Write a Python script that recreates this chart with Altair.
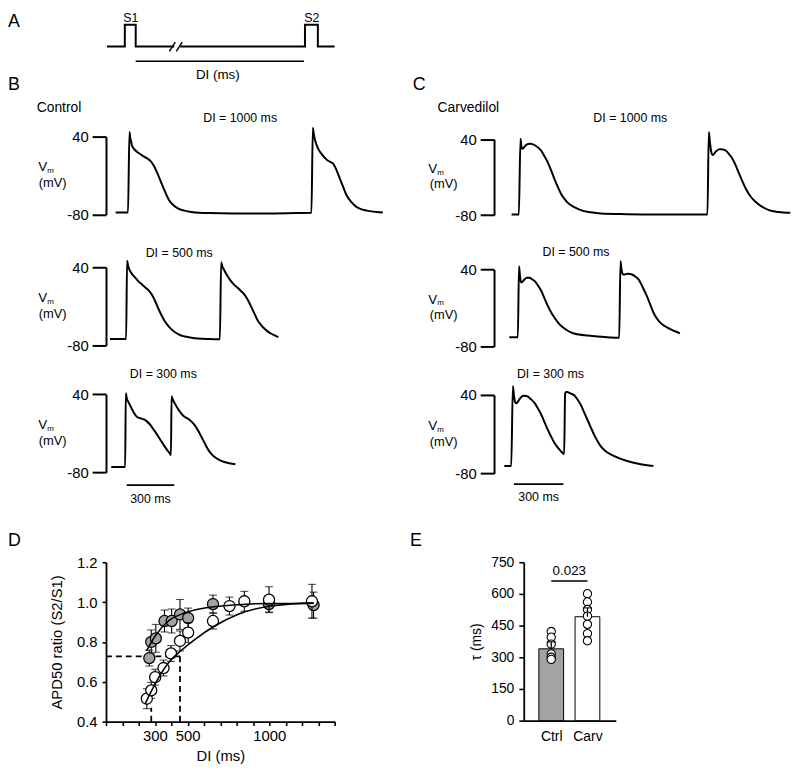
import altair as alt
import pandas as pd

FONT = "Liberation Sans"
W, H = 792, 764

# ---------------- Panel A: S1-S2 protocol (schematic units) ----------------
A_t = [0, 18, 18, 29, 29, 68, 74, 200, 200, 213, 213, 230]
A_lvl = [0, 0, 1, 1, 0, 0, 0, 0, 1, 1, 0, 0]
A_seg = ["a"] * 6 + ["b"] * 6
A_slash_t0 = [63, 70]
A_slash_t1 = [69, 76]
A_slash_y = [-0.22, 0.2]
A_di_span = [29, 199]
A_di_level = -0.68
A_labels = ["S1", "S2", "DI (ms)"]
A_label_t = [24, 207, 112]
A_label_y = [1.32, 1.32, -1.32]
A_label_fs = [12.5, 12.5, 13.5]

# ---------------- Panels B / C: action potential traces (ms, mV) ----------------
T_DOMAIN = [0, 1800]
V_DOMAIN = [-80, 40]

B1_pts = [(61, -77), (139, -77), (148, 47), (153, 38), (160, 31), (164, 26), (185, 19), (206, 14.6),
          (228, 11), (248, 8), (265, 5.5), (279, 3), (300, -4), (331, -20), (352, -33), (373, -45),
          (394, -56), (414, -63), (435, -67.5), (456, -71), (495, -74), (539, -76), (650, -77.8),
          (800, -78.3), (1000, -78.3), (1200, -77.8), (1297, -77.5), (1306, 53.7), (1313, 42),
          (1321, 33.5), (1340, 21), (1362, 13), (1394, 4.5), (1415, 1), (1435, -2.2), (1456, -12),
          (1477, -25), (1498, -38), (1519, -50.4), (1550, -61), (1581, -68.3), (1620, -72.5),
          (1665, -74.8), (1710, -76.3), (1748, -77)]
B2_pts = [(25, -70), (127, -70), (133, 50), (140, 42), (148, 36.5), (166, 29), (186, 23.7), (206, 18),
          (227, 13.7), (248, 9), (269, 4.6), (285, -0.5), (300, -6.6), (321, -18), (342, -29.4),
          (362, -39), (383, -47), (410, -54.5), (436, -59.8), (467, -64), (498, -66.3), (540, -68.2),
          (581, -69.4), (650, -70.2), (719, -70.5), (727, 47.6), (735, 41), (744, 36.5), (766, 27),
          (789, 18.7), (810, 13), (831, 8.6), (852, 3.5), (873, -1.5), (893, -9), (914, -19.2),
          (935, -30), (956, -41), (977, -48), (998, -53.7), (1018, -58), (1039, -61.3), (1065, -64.7),
          (1088, -67.4)]
B3_pts = [(33, -71.5), (121, -71.5), (125, 41.5), (132, 33), (144, 27), (164, 17), (180, 10), (196, 5),
          (212, 3.5), (227, 2.5), (243, 1), (258, -1.6), (280, -7), (300, -14), (320, -21), (342, -29.4),
          (362, -37), (383, -44.6), (400, -50), (410, -53.3), (414, 37), (420, 33), (436, 25.2), (456, 17),
          (477, 10), (498, 5), (519, 2.4), (540, -2), (561, -7.7), (582, -16), (602, -25.3), (623, -35),
          (644, -44.6), (665, -51.5), (686, -56.3), (717, -61), (748, -64), (785, -66.3), (817, -67.4)]
C1_pts = [(106, -79), (150, -79), (160, 41), (165, 30), (170, 25), (178, 26), (190, 30), (205, 32.5),
          (220, 33), (235, 32), (246, 30.5), (266, 27), (286, 21.8), (305, 13), (325, 3.5), (345, -9),
          (365, -22.7), (385, -35), (405, -46.2), (425, -54), (445, -60.3), (485, -67.5), (525, -72.2),
          (585, -75.5), (645, -77.5), (800, -78.5), (1000, -79), (1200, -79), (1291, -79), (1299, 51.6),
          (1306, 35), (1314, 20), (1323, 15), (1340, 20), (1360, 24), (1373, 24.3), (1390, 23.5),
          (1403, 21.8), (1423, 16), (1443, 8.7), (1463, -2), (1483, -14.8), (1503, -27), (1523, -38.3),
          (1553, -51), (1583, -59.2), (1620, -66.5), (1663, -72.2), (1720, -75), (1792, -76.4)]
C2_pts = [(92, -65.6), (144, -65.6), (151, 45), (157, 30), (163, 20), (172, 21), (185, 25), (200, 27),
          (216, 27), (231, 24.5), (246, 21.9), (266, 15), (286, 6.4), (305, -5), (325, -16.7),
          (345, -26.5), (365, -34.8), (385, -42), (405, -47.7), (435, -53.5), (465, -58), (515, -61.5),
          (565, -63), (625, -64.5), (684, -65.6), (757, -66.6), (765, 52.8), (771, 40), (779, 33),
          (789, 32.3), (810, 33.5), (834, 32.3), (855, 29), (874, 24.6), (900, 12), (924, -1.2),
          (944, -14), (964, -27), (984, -36), (1004, -42.4), (1034, -48.5), (1064, -52.7), (1094, -56.3),
          (1124, -59.4)]
C3_pts = [(62, -68.5), (104, -68.5), (114, 53.6), (121, 38), (128, 29), (136, 27.4), (150, 32), (165, 37),
          (180, 38.8), (195, 38.5), (205, 37.4), (225, 33), (246, 27.4), (266, 19), (286, 9.7),
          (305, -1.5), (325, -13), (345, -23.5), (365, -33.1), (380, -38.5), (395, -43.2), (410, -47.5),
          (424, -50.8), (430, 42), (436, 44.5), (445, 44.5), (455, 43), (470, 41.5), (485, 39.5), (505, 33),
          (525, 24.8), (545, 13.5), (565, 2.1), (585, -9.5), (605, -20.6), (625, -30), (645, -38.3),
          (675, -46), (705, -50.8), (755, -56.5), (805, -61), (880, -65.5), (964, -68.5)]

DI_texts = ["DI = 1000 ms", "DI = 500 ms", "DI = 300 ms"]
B_di_tv = [(847, 69), (462, 61.7), (362, 70.8)]
C_di_tv = [(824, 74), (496, 67), (341, 72)]
VM_labels = ["V", "m", "(mV)"]
VM_fs = [13.5, 8, 13]
VM_v = [-7, -13, -31.5]
B_vm_t = [-400, -350, -337]
C_vm_t = [-371, -323, -305]
B_bar = {"t0": [131], "t1": [431], "v": [-99.3], "lt": [281], "lv": [-120.6], "label": ["300 ms"]}
C_bar = {"t0": [120], "t1": [419], "v": [-96.2], "lt": [269.5], "lv": [-115.9], "label": ["300 ms"]}

# ---------------- Panel D: restitution (APD50 ratio vs DI) ----------------
D_white_di = [250, 277, 301, 352, 398, 453, 503, 655, 756, 847, 998, 1261]
D_white_r = [0.515, 0.557, 0.623, 0.669, 0.742, 0.805, 0.847, 0.905, 0.98, 1.004, 1.012, 1.004]
D_white_e = [0.05, 0.04, 0.04, 0.04, 0.04, 0.05, 0.05, 0.04, 0.045, 0.05, 0.065, 0.085]
D_gray_di = [265, 277, 305, 358, 402, 453, 503, 655, 998, 1271]
D_gray_r = [0.719, 0.80, 0.818, 0.905, 0.905, 0.938, 0.92, 0.99, 0.99, 0.985]
D_gray_e = [0.04, 0.06, 0.07, 0.055, 0.06, 0.075, 0.05, 0.045, 0.04, 0.065]
D_wfit_di = [240, 301, 402, 453, 545, 665, 806, 1008, 1271]
D_wfit_r = [0.49, 0.59, 0.714, 0.752, 0.813, 0.88, 0.938, 0.98, 0.996]
D_gfit_di = [248, 301, 382, 483, 604, 806, 1008, 1271]
D_gfit_r = [0.755, 0.83, 0.905, 0.946, 0.97, 0.987, 0.993, 0.993]
D_dash_x0 = [0, 453, 277]
D_dash_x1 = [453, 453, 277]
D_dash_y0 = [0.727, 0.4, 0.4]
D_dash_y1 = [0.727, 0.742, 0.47]

# ---------------- Panel E: tau ----------------
E_groups = ["Ctrl", "Carv"]
E_pos = [1, 2]
E_mean = [340, 492]
E_err_top = [373, 534]
E_ctrl_pts = [422, 395, 362, 316, 300, 290]
E_carv_pts = [601, 562, 526, 495, 456, 412, 378]
E_sig_y = 661
E_sig_text = "0.023"
E_sig_text_y = 708

# ---------------- Figure-level labels (reference pixel coords) ----------------
FIG_text = ["A", "B", "C", "D", "E", "Control", "Carvedilol"]
FIG_x = [8, 8, 417, 8, 414, 37, 442]
FIG_y = [18, 82, 82, 543, 543, 105, 105]
FIG_fs = [18, 18, 18, 18, 18, 14, 14]

GRAY = "#a3a3a3"


def panel_A():
    xs = alt.Scale(domain=[0, 230], range=[100, 330], nice=False, zero=False)
    ys = alt.Scale(domain=[0, 1], range=[35, 13], nice=False, zero=False)
    X = alt.X("t:Q", scale=xs, axis=None)
    df = pd.DataFrame({"t": A_t, "lvl": A_lvl, "seg": A_seg, "i": list(range(len(A_t)))})
    line = alt.Chart(df).mark_line(color="black", strokeWidth=2).encode(
        x=X, y=alt.Y("lvl:Q", scale=ys, axis=None), detail="seg:N", order="i:Q")
    sl = pd.DataFrame({"t0": A_slash_t0, "t1": A_slash_t1,
                       "y0": [A_slash_y[0]] * 2, "y1": [A_slash_y[1]] * 2})
    slash = alt.Chart(sl).mark_rule(color="black", strokeWidth=1.5).encode(
        x=alt.X("t0:Q", scale=xs, axis=None), x2="t1:Q",
        y=alt.Y("y0:Q", scale=ys, axis=None), y2="y1:Q")
    di = pd.DataFrame({"t0": [A_di_span[0]], "t1": [A_di_span[1]], "y": [A_di_level]})
    dibar = alt.Chart(di).mark_rule(color="black", strokeWidth=1.6).encode(
        x=alt.X("t0:Q", scale=xs, axis=None), x2="t1:Q", y=alt.Y("y:Q", scale=ys, axis=None))
    tx = pd.DataFrame({"t": A_label_t, "y": A_label_y, "label": A_labels, "fs": A_label_fs})
    txt = alt.Chart(tx).mark_text(color="black", baseline="middle", align="center").encode(
        x=X, y=alt.Y("y:Q", scale=ys, axis=None), text="label:N", size=alt.Size("fs:Q", scale=None))
    return alt.layer(line, slash, dibar, txt)


def trace_panel(pts, xr, yr, y_off, di_text, di_tv, vm_t, bar=None):
    xs = alt.Scale(domain=T_DOMAIN, range=xr, nice=False, zero=False)
    ys = alt.Scale(domain=V_DOMAIN, range=yr, nice=False, zero=False)
    y_axis = alt.Axis(orient="left", offset=y_off, values=[40, -80], tickSize=14, tickWidth=2,
                      domainWidth=2, labelPadding=4, labelFontSize=15,
                      labelExpr="toString(datum.value)", title=None)

    def X(f):
        return alt.X(f, type="quantitative", scale=xs, axis=None)

    def Y(f):
        return alt.Y(f, type="quantitative", scale=ys, axis=y_axis)

    line = alt.Chart(pd.DataFrame(pts, columns=["t", "v"])).mark_line(
        color="black", strokeWidth=2, interpolate="monotone").encode(x=X("t"), y=Y("v"))
    tx = pd.DataFrame({"t": [di_tv[0]] + vm_t, "v": [di_tv[1]] + VM_v,
                       "label": [di_text] + VM_labels, "fs": [12.5] + VM_fs})
    txt = alt.Chart(tx).mark_text(color="black", baseline="middle", align="center").encode(
        x=X("t"), y=Y("v"), text="label:N", size=alt.Size("fs:Q", scale=None))
    layers = [line, txt]
    if bar is not None:
        bdf = pd.DataFrame(bar)
        layers.append(alt.Chart(bdf).mark_rule(color="black", strokeWidth=1.8).encode(
            x=X("t0"), x2="t1:Q", y=Y("v")))
        layers.append(alt.Chart(bdf).mark_text(color="black", fontSize=12.5, baseline="middle").encode(
            x=X("lt"), y=Y("lv"), text="label:N"))
    return alt.layer(*layers)


B_XR = [99, 387]
C_XR = [491, 791.6]
B_YR = [[204.7, 126], [337, 258], [465.3, 386.3]]
C_YR = [[205.3, 128.7], [338, 260.3], [466.3, 387]]

traces = []
for i, pts in enumerate([B1_pts, B2_pts, B3_pts]):
    traces.append(trace_panel(pts, B_XR, B_YR[i], -99, DI_texts[i], B_di_tv[i], B_vm_t,
                              B_bar if i == 2 else None))
for i, pts in enumerate([C1_pts, C2_pts, C3_pts]):
    traces.append(trace_panel(pts, C_XR, C_YR[i], -491, DI_texts[i], C_di_tv[i], C_vm_t,
                              C_bar if i == 2 else None))


def panel_D():
    xs = alt.Scale(domain=[0, 1400], range=[99, 330], nice=False, zero=False)
    ys = alt.Scale(domain=[0.4, 1.2], range=[717, 556], nice=False, zero=False)
    x_axis = alt.Axis(orient="bottom", offset=-47, values=list(range(0, 1500, 100)), format="d",
                      labelExpr="(datum.value == 300 || datum.value == 500 || datum.value == 1000) ? datum.label : ''",
                      tickSize=4, tickWidth=1.6, domainWidth=1.8, labelFontSize=15, labelPadding=3,
                      title="DI (ms)", titleFontSize=15, titlePadding=5)
    y_axis = alt.Axis(orient="left", offset=-99, values=[0.4, 0.6, 0.8, 1.0, 1.2], format=".1f",
                      tickSize=4, tickWidth=1.6, domainWidth=1.8, labelFontSize=15, labelPadding=5,
                      title="APD50 ratio (S2/S1)", titleFontSize=15, titlePadding=12)

    def X(f):
        return alt.X(f, type="quantitative", scale=xs, axis=x_axis)

    def Y(f):
        return alt.Y(f, type="quantitative", scale=ys, axis=y_axis)

    dd = pd.DataFrame({"x0": D_dash_x0, "x1": D_dash_x1, "y0": D_dash_y0, "y1": D_dash_y1})
    dash = alt.Chart(dd).mark_rule(color="black", strokeWidth=1.8, strokeDash=[6, 4]).encode(
        x=X("x0"), x2="x1:Q", y=Y("y0"), y2="y1:Q")

    def series(di, r, e, fill):
        df = pd.DataFrame({"di": di, "r": r, "e": e})
        df["lo"] = df["r"] - df["e"]
        df["hi"] = df["r"] + df["e"]
        rule = alt.Chart(df).mark_rule(color="black", strokeWidth=1.1).encode(
            x=X("di"), y=Y("lo"), y2="hi:Q")
        cap_hi = alt.Chart(df).mark_tick(orient="horizontal", color="black", size=8, thickness=1.1).encode(
            x=X("di"), y=Y("hi"))
        cap_lo = alt.Chart(df).mark_tick(orient="horizontal", color="black", size=8, thickness=1.1).encode(
            x=X("di"), y=Y("lo"))
        pts = alt.Chart(df).mark_point(shape="circle", filled=True, fill=fill, stroke="black",
                                       strokeWidth=1.3, size=125, opacity=1).encode(
            x=X("di"), y=Y("r"))
        return [rule, cap_hi, cap_lo, pts]

    def fit(di, r):
        return alt.Chart(pd.DataFrame({"di": di, "r": r})).mark_line(
            color="black", strokeWidth=1.6, interpolate="monotone").encode(x=X("di"), y=Y("r"))

    layers = [dash] + series(D_gray_di, D_gray_r, D_gray_e, GRAY) + \
        series(D_white_di, D_white_r, D_white_e, "white") + \
        [fit(D_gfit_di, D_gfit_r), fit(D_wfit_di, D_wfit_r)]
    return alt.layer(*layers)


def panel_E():
    # group positions 1, 2 on a linear scale (41 px per group step)
    xs = alt.Scale(domain=[0.378, 2.646], range=[521, 614], nice=False, zero=False)
    ys = alt.Scale(domain=[0, 750], range=[716, 556], nice=False)
    x_axis = alt.Axis(orient="bottom", offset=-48, ticks=False, values=E_pos, labelPadding=9,
                      labelFontSize=14, labelAngle=0, domainWidth=1.8, title=None,
                      labelExpr="datum.value == 1 ? 'Ctrl' : 'Carv'")
    y_axis = alt.Axis(orient="left", offset=-521, values=[0, 150, 300, 450, 600, 750], format="d",
                      tickSize=5, tickWidth=1.6, domainWidth=1.8, labelFontSize=14, labelPadding=5,
                      title="\u03c4 (ms)", titleFontSize=14, titlePadding=7)

    def X(f):
        return alt.X(f, type="quantitative", scale=xs, axis=x_axis)

    def Y(f):
        return alt.Y(f, type="quantitative", scale=ys, axis=y_axis)

    bars_df = pd.DataFrame({"g": E_groups, "p": E_pos, "m": E_mean, "top": E_err_top})
    bars = alt.Chart(bars_df).mark_bar(size=25, stroke="black", strokeWidth=1).encode(
        x=X("p"), y=Y("m"),
        color=alt.Color("g:N", scale=alt.Scale(domain=E_groups, range=[GRAY, "white"]), legend=None))
    pts_df = pd.DataFrame({"p": [E_pos[0]] * len(E_ctrl_pts) + [E_pos[1]] * len(E_carv_pts),
                           "val": E_ctrl_pts + E_carv_pts})
    pts = alt.Chart(pts_df).mark_point(shape="circle", filled=True, fill="white", stroke="black",
                                       strokeWidth=1.1, size=70, opacity=1).encode(x=X("p"), y=Y("val"))
    err = alt.Chart(bars_df).mark_rule(color="black", strokeWidth=1.3).encode(
        x=X("p"), y=Y("m"), y2="top:Q")
    cap = alt.Chart(bars_df).mark_tick(orient="horizontal", color="black", size=9, thickness=1.5).encode(
        x=X("p"), y=Y("top"))
    sig_df = pd.DataFrame({"p1": [E_pos[0]], "p2": [E_pos[1]], "pm": [sum(E_pos) / 2],
                           "y": [E_sig_y], "ty": [E_sig_text_y], "label": [E_sig_text]})
    sig = alt.Chart(sig_df).mark_rule(color="black", strokeWidth=1.5).encode(
        x=X("p1"), x2="p2:Q", y=Y("y"))
    sig_t = alt.Chart(sig_df).mark_text(color="black", fontSize=13.5, baseline="middle").encode(
        x=X("pm"), y=Y("ty"), text="label:N")
    return alt.layer(bars, pts, err, cap, sig, sig_t)


def fig_labels():
    xs = alt.Scale(domain=[0, 800], range=[-8, 792], nice=False, zero=False)
    ys = alt.Scale(domain=[0, 772], range=[-8, 764], nice=False, zero=False)
    df = pd.DataFrame({"x": FIG_x, "y": FIG_y, "label": FIG_text, "fs": FIG_fs})
    return alt.Chart(df).mark_text(color="black", align="left", baseline="middle").encode(
        x=alt.X("x:Q", scale=xs, axis=None), y=alt.Y("y:Q", scale=ys, axis=None),
        text="label:N", size=alt.Size("fs:Q", scale=None))


chart = alt.layer(panel_A(), *traces, panel_D(), panel_E(), fig_labels()).resolve_scale(
    x="independent", y="independent", color="independent"
).properties(
    width=W, height=H, padding=0, autosize=alt.AutoSizeParams(type="none")
).configure(font=FONT).configure_view(stroke=None).configure_axis(
    grid=False, labelFont=FONT, titleFont=FONT, domainColor="black", tickColor="black",
    labelColor="black", titleColor="black", titleFontWeight="normal", labelFlush=False,
    labelOverlap=False
)

chart.save("out.html", embed_options={"renderer": "svg", "actions": False})
